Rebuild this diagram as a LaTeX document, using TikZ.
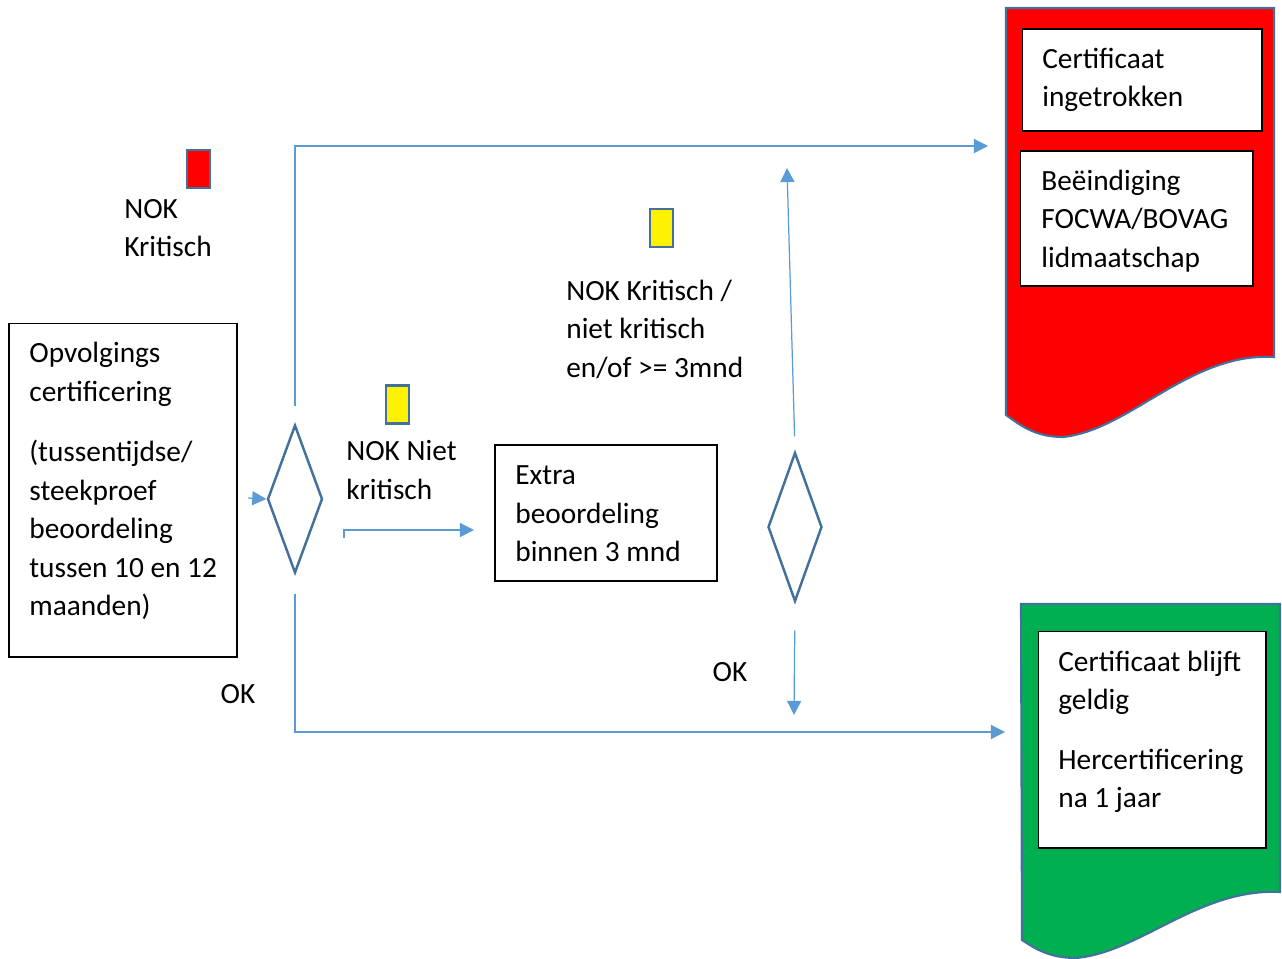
\documentclass[tikz,border=0pt]{standalone}
\usepackage{fontspec}
\setmainfont{Carlito}
\usetikzlibrary{shapes.geometric,arrows.meta}
\definecolor{lijn}{HTML}{5B9BD5}
\definecolor{rand}{HTML}{41719C}
\definecolor{groen}{HTML}{00B050}
\begin{document}
\begin{tikzpicture}[x=0.02cm,y=-0.02cm,
       font=\fontsize{16.7}{21.9}\selectfont,
       box/.style={rectangle,draw=black,line width=0.6pt,fill=white,inner sep=0pt},
       ruit/.style={diamond,draw=rand,line width=1.4pt,inner sep=0pt},
       vlag/.style={rectangle,draw=rand,line width=1.2pt,inner sep=0pt,minimum width=0.46cm,minimum height=0.76cm},
       lbl/.style={align=left,inner sep=0pt,anchor=west},
       flow/.style={-{Triangle[length=8pt,width=8pt]},draw=lijn,line width=0.7pt}]
   \useasboundingbox (0,0) rectangle (1282,958);
   % documenten rechts
   \draw [rand,line width=1.2pt,fill=red] (1006,8) -- (1274,8) -- (1274,357)
       .. controls (1190,352) and (1130,430) .. (1063,437)
       .. controls (1035,437) and (1020,425) .. (1006,415) -- cycle;
   \draw [rand,line width=1.2pt,fill=groen] (1021,604) -- (1280,604) -- (1280,892)
       .. controls (1199,888) and (1141,952) .. (1076,958)
       .. controls (1049,958) and (1034,948) .. (1022,940) -- cycle;
   \node [box,minimum width=4.8cm,minimum height=2.04cm] (ingetr) at (1142,80) {};
   \node [lbl] (ingetrT) at (1042,80) {Certificaat\\ingetrokken};
   \node [box,minimum width=4.66cm,minimum height=2.7cm] (beeind) at (1136.5,218.5) {};
   \node [lbl] (beeindT) at (1041,221) {Beëindiging\\FOCWA/BOVAG\\lidmaatschap};
   \node [box,minimum width=4.56cm,minimum height=4.34cm] (geldig) at (1152,739.5) {};
   \node [lbl] (geldigT) at (1058,732) {Certificaat blijft\\geldig\\[0.42cm]Hercertificering\\na 1 jaar};
   % stroom
   \node [box,minimum width=4.56cm,minimum height=6.68cm] (opvolg) at (123,490) {};
   \node [lbl] (opvolgT) at (29,481) {Opvolgings\\certificering\\[0.44cm](tussentijdse/\\steekproef\\beoordeling\\tussen 10 en 12\\maanden)};
   \node [ruit,minimum width=1.1cm,minimum height=2.96cm] (ruit1) at (295,499) {};
   \node [box,minimum width=4.44cm,minimum height=2.72cm] (extra) at (606,513) {};
   \node [lbl] (extraT) at (515,514) {Extra\\beoordeling\\binnen 3 mnd};
   \node [ruit,minimum width=1.08cm,minimum height=2.98cm] (ruit2) at (795,527) {};
   % labels
   \node [vlag,fill=red] (vlagR) at (198.5,169) {};
   \node [lbl] (nokK) at (124,228) {NOK\\Kritisch};
   \node [vlag,fill=yellow] (vlagG1) at (397.5,404.5) {};
   \node [lbl] (nokN) at (346,470) {NOK Niet\\kritisch};
   \node [vlag,fill=yellow] (vlagG2) at (661.5,228) {};
   \node [lbl] (nokKN) at (566,329) {NOK Kritisch /\\niet kritisch\\en/of >= 3mnd};
   \node [lbl,anchor=center] (ok1) at (238,694) {OK};
   \node [lbl,anchor=center] (ok2) at (730,672) {OK};
   % pijlen
   \coordinate (inS) at (248,498);
   \coordinate (naarRood) at (988,146);
   \coordinate (naarGroen) at (1005,732);
   \coordinate (haakS) at (344,538);
   \coordinate (haakE) at (474,530);
   \coordinate (opE) at (787,168);
   \coordinate (neerE) at (794,715);
   \draw [flow] (inS) -- (ruit1.west);
   \draw [flow,shorten <=0.36cm] (ruit1.north) |- (naarRood);
   \draw [flow,shorten <=0.4cm] (ruit1.south) |- (naarGroen);
   \draw [flow] (haakS) |- (haakE);
   \draw [flow,shorten <=0.3cm] (ruit2.north) -- (opE);
   \draw [flow,shorten <=0.56cm] (ruit2.south) -- (neerE);
\end{tikzpicture}
\end{document}
